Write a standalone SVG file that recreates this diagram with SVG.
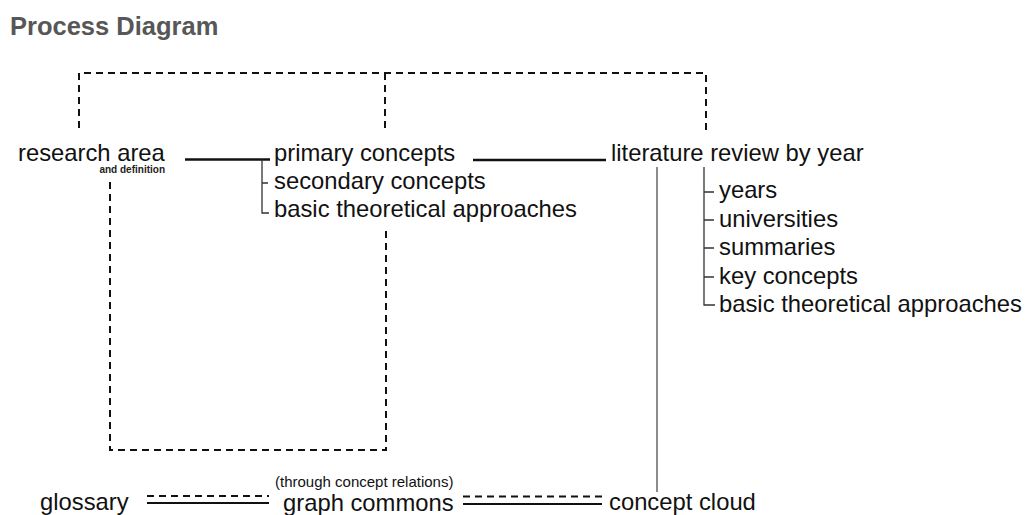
<svg xmlns="http://www.w3.org/2000/svg" width="1027" height="515" viewBox="0 0 1027 515">
<style>
text{font-family:"Liberation Sans",Arial,sans-serif;fill:#111}
.t{font-size:23.8px}
.title{font-size:25.5px;font-weight:bold;fill:#575757}
.small{font-size:10px;font-weight:bold;fill:#222}
.note{font-size:15px}
.dash{fill:none;stroke:#111;stroke-width:2;stroke-dasharray:7 5}
.thick{fill:none;stroke:#111;stroke-width:2.6}
.thin{fill:none;stroke:#333;stroke-width:1.3}
.gray{fill:none;stroke:#666;stroke-width:1.5}
.solid{fill:none;stroke:#111;stroke-width:2.2}
</style>
<rect width="1027" height="515" fill="#fff"/>
<text class="title" x="10" y="35">Process Diagram</text>
<g id="connectors">
<path class="dash" d="M79 128 V73 H706 V135"/>
<path class="dash" d="M385 73 V128"/>
<path class="dash" d="M110 182 V450 H386 V230"/>
<path class="thick" d="M185 159.5 H270"/>
<path class="thin" d="M262 159.5 V213 H269 M262 183 H268"/>
<path class="thick" d="M473 160 H606"/>
<path class="gray" d="M657 167 V492"/>
<path class="thin" d="M704 167 V305 H715 M704 192 H714 M704 220 H714 M704 248 H714 M704 277 H714"/>
<path class="dash" d="M147 496 H269"/>
<path class="solid" d="M147 503 H269"/>
<path class="dash" d="M463 496.5 H602"/>
<path class="solid" d="M463 504 H602"/>
</g>
<g id="research-area">
<text class="t" x="18" y="161">research area</text>
<text class="small" x="165" y="173" text-anchor="end">and definition</text>
</g>
<g id="concepts">
<text class="t" x="274" y="161">primary concepts</text>
<text class="t" x="274" y="189">secondary concepts</text>
<text class="t" x="274" y="217">basic theoretical approaches</text>
</g>
<g id="literature-review">
<text class="t" x="611" y="161">literature review by year</text>
<text class="t" x="719" y="198">years</text>
<text class="t" x="719" y="227">universities</text>
<text class="t" x="719" y="255">summaries</text>
<text class="t" x="719" y="284">key concepts</text>
<text class="t" x="719" y="312">basic theoretical approaches</text>
</g>
<g id="glossary">
<text class="t" x="40" y="510">glossary</text>
</g>
<g id="graph-commons">
<text class="note" x="275" y="487">(through concept relations)</text>
<text class="t" x="283" y="511">graph commons</text>
</g>
<g id="concept-cloud">
<text class="t" x="609" y="510">concept cloud</text>
</g>
</svg>
